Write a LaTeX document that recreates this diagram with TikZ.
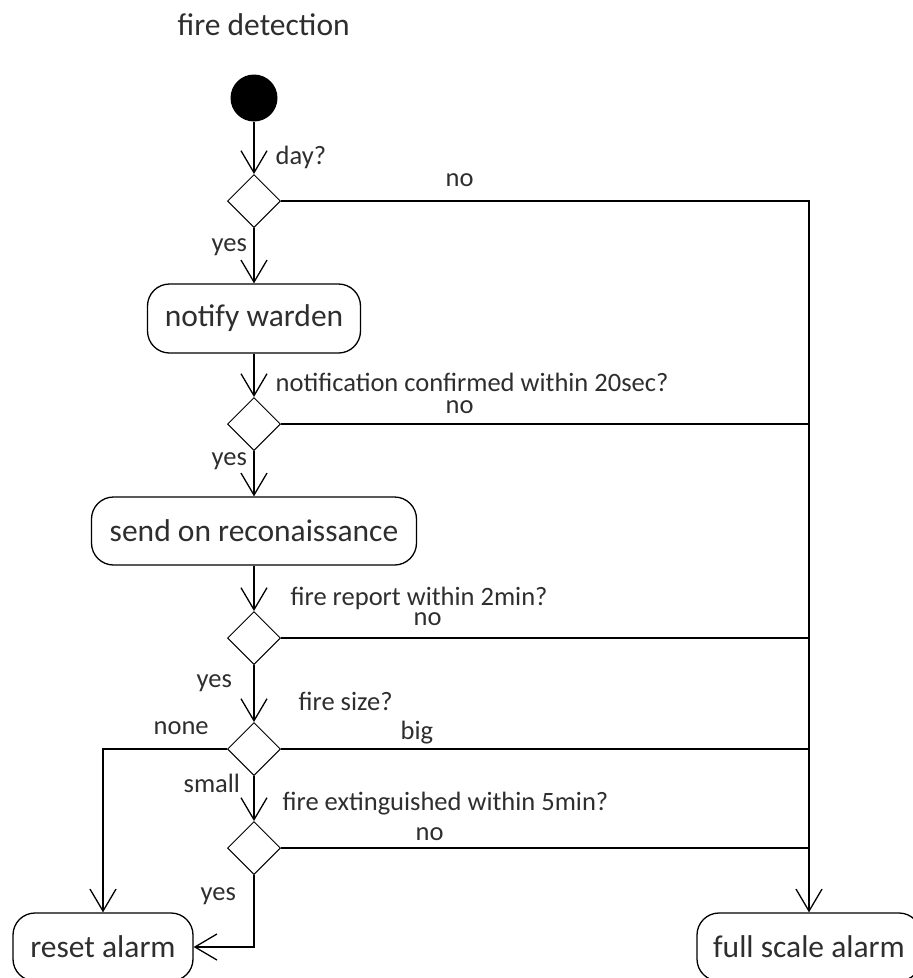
\documentclass[tikz,border=0pt]{standalone}
\usepackage{fontspec}
\setmainfont{Carlito}
\usetikzlibrary{shapes.geometric,arrows.meta}
\definecolor{txt}{HTML}{2E2E2E}
\begin{document}
\begin{tikzpicture}[x=1pt,y=-1pt,line width=1.3pt,
  ar/.style={-{Straight Barb[length=22pt,width=26pt,line width=1.3pt]}},
  act/.style={draw, rounded corners=22pt, font=\fontsize{31.5}{36}\selectfont, text=txt, inner sep=0pt},
  dec/.style={draw, diamond, minimum width=53pt, minimum height=53pt, inner sep=0pt, line width=1pt},
  lbl/.style={font=\fontsize{26.5}{30}\selectfont, text=txt, inner sep=0pt, anchor=base west},
  ttl/.style={font=\fontsize{31.5}{36}\selectfont, text=txt, inner sep=0pt, anchor=base west}]
\useasboundingbox (0,0) rectangle (913,978);
\clip (0,0) rectangle (913,978);
\node[ttl] (title) at (177,35) {fire detection};
\node[circle, fill=black, minimum size=47pt, inner sep=0pt] (start) at (254,98) {};
\node[dec] (d1) at (254,201) {};
\node[act, minimum width=213pt, minimum height=69pt] (warden) at (254,318.5) {notify warden};
\node[dec] (d2) at (254,424) {};
\node[act, minimum width=325pt, minimum height=68pt] (recon) at (254,531) {send on reconaissance};
\node[dec] (d3) at (254,638) {};
\node[dec] (d4) at (254,749) {};
\node[dec] (d5) at (254,848) {};
\node[act, minimum width=180pt, minimum height=68pt] (reset) at (103,947) {reset alarm};
\node[act, minimum width=224pt, minimum height=68pt] (full) at (809,947) {full scale alarm};

\draw[ar] (start) -- (d1);
\draw[ar] (d1) -- (warden);
\draw[ar] (warden) -- (d2);
\draw[ar] (d2) -- (recon);
\draw[ar] (recon) -- (d3);
\draw[ar] (d3) -- (d4);
\draw[ar] (d4) -- (d5);
\draw[ar] (d5.south) |- (reset.east);
\draw[ar] (d4.west) -| (reset.north);
\draw[ar] (d1.east) -| (full.north);
\draw (d2.east) -- (d2.east -| full.north);
\draw (d3.east) -- (d3.east -| full.north);
\draw (d4.east) -- (d4.east -| full.north);
\draw (d5.east) -- (d5.east -| full.north);

\node[lbl] (l1) at (275,164) {day?};
\node[lbl] (l2) at (445,186) {no};
\node[lbl] (l3) at (211,251) {yes};
\node[lbl] (l4) at (275,391) {notification confirmed within 20sec?};
\node[lbl] (l5) at (445,413) {no};
\node[lbl] (l6) at (211,465) {yes};
\node[lbl] (l7) at (290,605) {fire report within 2min?};
\node[lbl] (l8) at (413,625) {no};
\node[lbl] (l9) at (196,687) {yes};
\node[lbl] (l10) at (298,710) {fire size?};
\node[lbl] (l11) at (153,734) {none};
\node[lbl] (l12) at (400,739) {big};
\node[lbl] (l13) at (183,792) {small};
\node[lbl] (l14) at (282,810) {fire extinguished within 5min?};
\node[lbl] (l15) at (415,840) {no};
\node[lbl] (l16) at (200,900) {yes};
\end{tikzpicture}
\end{document}
